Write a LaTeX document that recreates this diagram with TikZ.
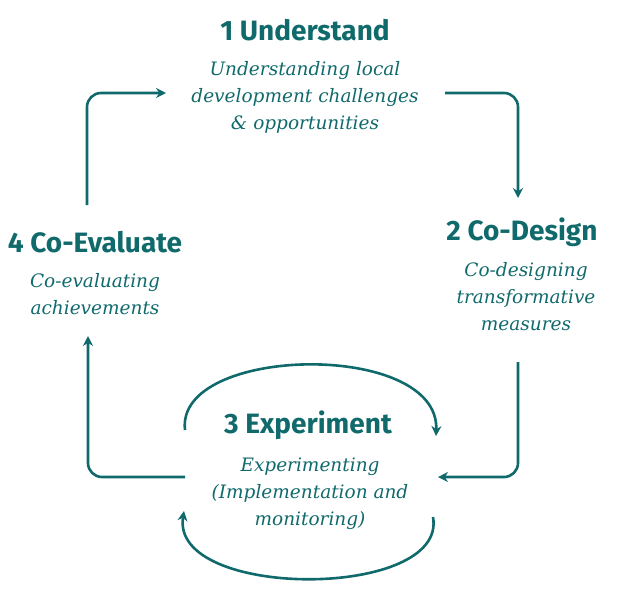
\documentclass[tikz,border=0pt]{standalone}
\usepackage{fontspec}
\setmainfont{DejaVu Serif}
\newfontfamily\headfont{Fira Sans}
\usetikzlibrary{arrows.meta}
\definecolor{teal1}{HTML}{10696B}
\begin{document}
\begin{tikzpicture}[x=1pt,y=-1pt,
  head/.style={text=teal1,font=\headfont\bfseries\fontsize{28}{30}\selectfont,anchor=center},
  sub/.style={text=teal1,font=\itshape\fontsize{18.5}{27}\selectfont,align=center,anchor=north},
  conn/.style={draw=teal1,line width=2.6pt,rounded corners=14pt,-{Stealth[length=10pt,width=10pt]}}]
\useasboundingbox (0,0) rectangle (631,600);
\node[head] (h1) at (305,30) {1 Understand};
\node[sub] (s1) at (305,58) {Understanding local\\development challenges\\\& opportunities};
\node[head] (h2) at (522,232) {2 Co-Design};
\node[sub] (s2) at (526,259) {Co-designing\\transformative\\measures};
\node[head] (h3) at (308,425) {3 Experiment};
\node[sub] (s3) at (310,454) {Experimenting\\(Implementation and\\monitoring)};
\node[head] (h4) at (95,242) {4 Co-Evaluate};
\node[sub] (s4) at (95,270) {Co-evaluating\\achievements};
\coordinate (a1) at (87,205); \coordinate (a1e) at (166,93);
\coordinate (a2) at (445,93); \coordinate (a2e) at (518,198);
\coordinate (a3) at (518,362); \coordinate (a3e) at (438,477);
\coordinate (a4) at (185,477); \coordinate (a4e) at (88,336);
\draw[conn] (a1) -- (87,93) -- (a1e);
\draw[conn] (a2) -- (518,93) -- (a2e);
\draw[conn] (a3) -- (518,477) -- (a3e);
\draw[conn] (a4) -- (88,477) -- (a4e);
\coordinate (l1) at (185,430); \coordinate (l1e) at (436,436);
\coordinate (l2) at (433,517); \coordinate (l2e) at (184,511);
\draw[conn] (l1) .. controls (175,345) and (440,340) .. (l1e);
\draw[conn] (l2) .. controls (448,600) and (170,600) .. (l2e);
\end{tikzpicture}
\end{document}
